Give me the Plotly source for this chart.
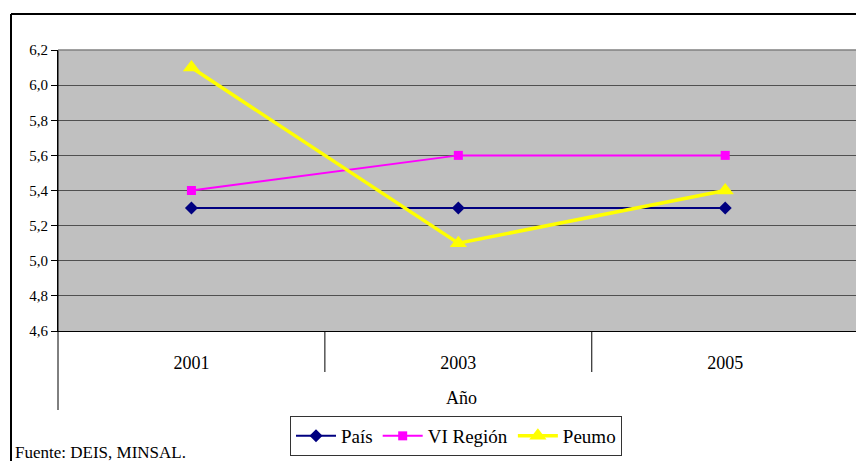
import plotly.graph_objects as go

years = ['2001', '2003', '2005']
pais = [5.3, 5.3, 5.3]
vi_region = [5.4, 5.6, 5.6]
peumo = [6.1, 5.1, 5.4]
y_ticks = [4.6, 4.8, 5.0, 5.2, 5.4, 5.6, 5.8, 6.0, 6.2]

W, H = 856, 461
L, T, B = 58, 50, 130
plot_w = W - L
plot_h = H - T - B


def px_x(x):
    return (x - L) / plot_w


def px_y(y):
    return (H - B - y) / plot_h


serif = 'Liberation Serif'

fig = go.Figure()

fig.add_trace(go.Scatter(
    x=years, y=pais, name='País', mode='lines+markers',
    line=dict(color='#000080', width=2),
    marker=dict(symbol='diamond', size=10, color='#000080')
))
fig.add_trace(go.Scatter(
    x=years, y=vi_region, name='VI Región', mode='lines+markers',
    line=dict(color='#FF00FF', width=2),
    marker=dict(symbol='square', size=9, color='#FF00FF')
))
fig.add_trace(go.Scatter(
    x=years, y=peumo, name='Peumo', mode='lines+markers',
    line=dict(color='#FFFF00', width=3.5),
    marker=dict(symbol='triangle-up', size=15, color='#FFFF00')
))

shapes = []
# dividers between categories
for i in range(len(years)):
    shapes.append(dict(type='line', xref='x', yref='paper',
                       x0=i + 0.5, x1=i + 0.5, y0=0, y1=px_y(372),
                       line=dict(color='black', width=1)))
# left axis extension
shapes.append(dict(type='line', xref='paper', yref='paper',
                   x0=0, x1=0, y0=1, y1=px_y(410),
                   line=dict(color='black', width=1)))
# top edge of plot area
shapes.append(dict(type='line', xref='paper', yref='paper',
                   x0=0, x1=1, y0=1, y1=1,
                   line=dict(color='#808080', width=1.5)))
# outer chart border
shapes.append(dict(type='line', xref='paper', yref='paper',
                   x0=px_x(11), x1=px_x(W + 5), y0=px_y(14), y1=px_y(14),
                   line=dict(color='black', width=2)))
shapes.append(dict(type='line', xref='paper', yref='paper',
                   x0=px_x(11), x1=px_x(11), y0=px_y(14), y1=px_y(H + 5),
                   line=dict(color='black', width=2)))

fig.update_layout(
    width=W, height=H,
    margin=dict(l=L, r=0, t=T, b=B),
    paper_bgcolor='white',
    plot_bgcolor='#C0C0C0',
    separators=',.',
    font=dict(family=serif, size=15, color='black'),
    showlegend=True,
    legend=dict(
        orientation='h', x=px_x(456), y=px_y(416),
        xanchor='center', yanchor='top',
        bordercolor='#333333', borderwidth=1,
        font=dict(family=serif, size=19),
        itemwidth=40, tracegroupgap=0
    ),
    xaxis=dict(
        type='category', range=[-0.5, 2.49],
        showgrid=False, zeroline=False,
        showline=True, linecolor='black', linewidth=1,
        ticks='', tickfont=dict(family=serif, size=18),
        ticklabelstandoff=15
    ),
    yaxis=dict(
        range=[4.6, 6.2], tickvals=y_ticks, tickformat='.1f',
        showgrid=True, gridcolor='#505050', gridwidth=1,
        zeroline=False, showline=True, linecolor='black', linewidth=1,
        ticks='outside', ticklen=6, tickcolor='black',
        tickfont=dict(family=serif, size=15)
    ),
    shapes=shapes,
    annotations=[
        dict(text='Año', xref='paper', yref='paper',
             x=px_x(461), y=px_y(398), xanchor='center', yanchor='middle',
             showarrow=False, font=dict(family=serif, size=18)),
        dict(text='Fuente: DEIS, MINSAL.', xref='paper', yref='paper',
             x=px_x(13), y=px_y(452), xanchor='left', yanchor='middle',
             showarrow=False, font=dict(family=serif, size=17)),
    ]
)

fig.write_html('out.html', config={'displayModeBar': False},
               post_script="document.body.style.margin='0';")
